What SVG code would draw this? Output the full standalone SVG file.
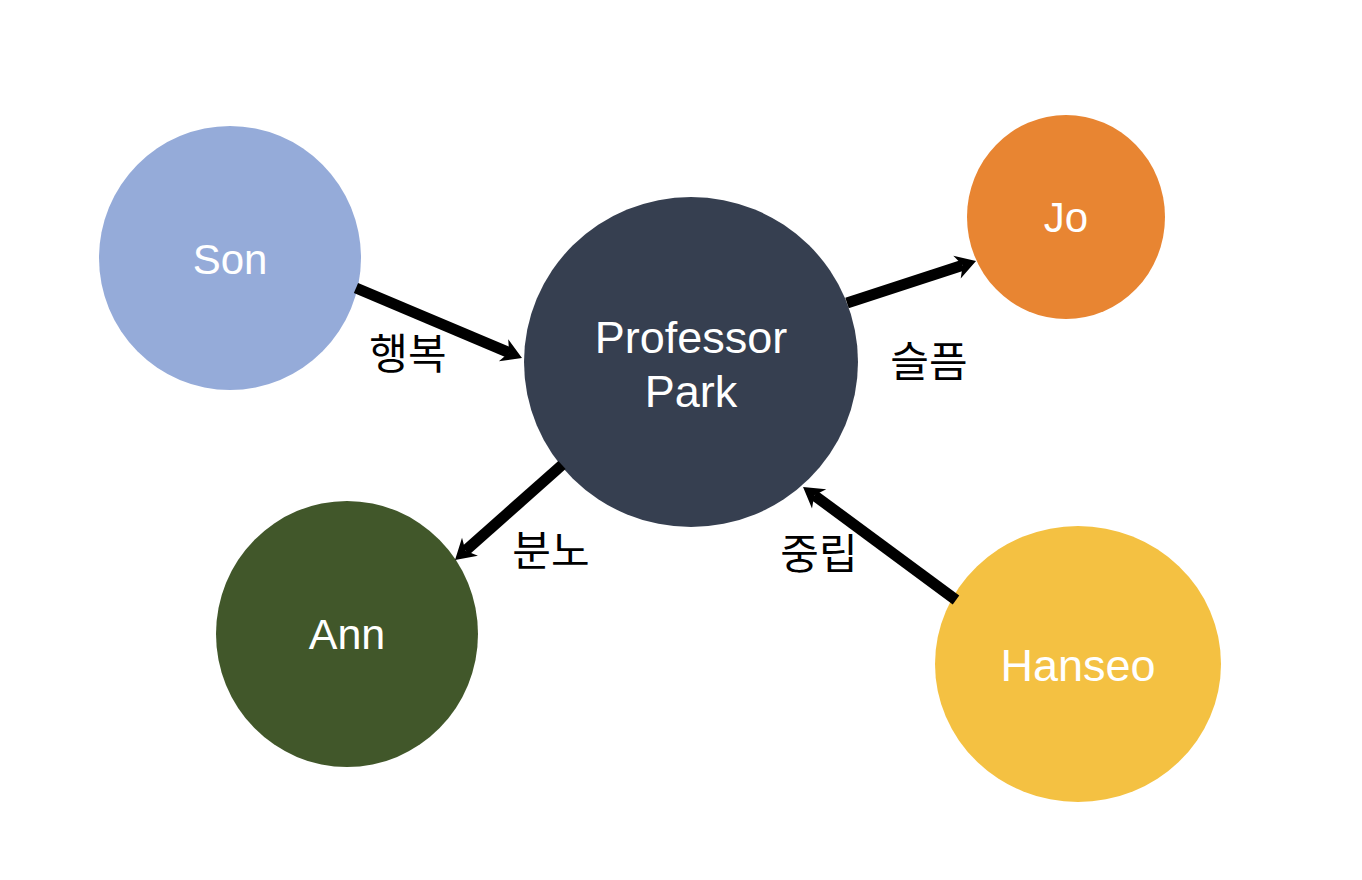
<svg xmlns="http://www.w3.org/2000/svg" width="1362" height="880" viewBox="0 0 1362 880">
<style>
.name{font-family:"Liberation Sans",Arial,sans-serif;fill:#ffffff;text-anchor:middle;dominant-baseline:central}
.lbl{font-family:"Noto Sans CJK KR",sans-serif;font-size:42px;fill:#000000;text-anchor:middle;dominant-baseline:central}
.edge{stroke:#000000;stroke-width:11;fill:none;marker-end:url(#arr)}
</style>
<defs>
<marker id="arr" markerUnits="userSpaceOnUse" markerWidth="30" markerHeight="30" refX="8" refY="15" orient="auto" overflow="visible">
<path d="M22,15 L2,3 L8,15 L2,27 Z" fill="#000000"/>
</marker>
</defs>
<rect width="1362" height="880" fill="#ffffff"/>
<g id="nodes">
<g id="son"><ellipse cx="230" cy="258" rx="131" ry="132" fill="#95ABD9"/><text class="name" x="230" y="259" font-size="42">Son</text></g>
<g id="professor-park"><ellipse cx="691" cy="362" rx="167" ry="165" fill="#363F50"/><text class="name" x="691" y="337" font-size="45">Professor</text><text class="name" x="691" y="391" font-size="45">Park</text></g>
<g id="jo"><ellipse cx="1066" cy="217" rx="99" ry="102" fill="#E88532"/><text class="name" x="1066" y="217" font-size="42">Jo</text></g>
<g id="ann"><ellipse cx="347" cy="634" rx="131" ry="133" fill="#41572A"/><text class="name" x="347" y="634" font-size="43">Ann</text></g>
<g id="hanseo"><ellipse cx="1078" cy="664" rx="143" ry="138" fill="#F4C142"/><text class="name" x="1078" y="665" font-size="45">Hanseo</text></g>
</g>
<g id="connectors">
<line class="edge" x1="356" y1="288" x2="509.1" y2="352.6"/>
<line class="edge" x1="847" y1="303" x2="962.7" y2="265.3"/>
<line class="edge" x1="562" y1="465" x2="465.5" y2="550.7"/>
<line class="edge" x1="956" y1="600" x2="814.3" y2="495.3"/>
<text class="lbl" x="408" y="350">행복</text>
<text class="lbl" x="929" y="358">슬픔</text>
<text class="lbl" x="551" y="547">분노</text>
<text class="lbl" x="819" y="550">중립</text>
</g>
</svg>
